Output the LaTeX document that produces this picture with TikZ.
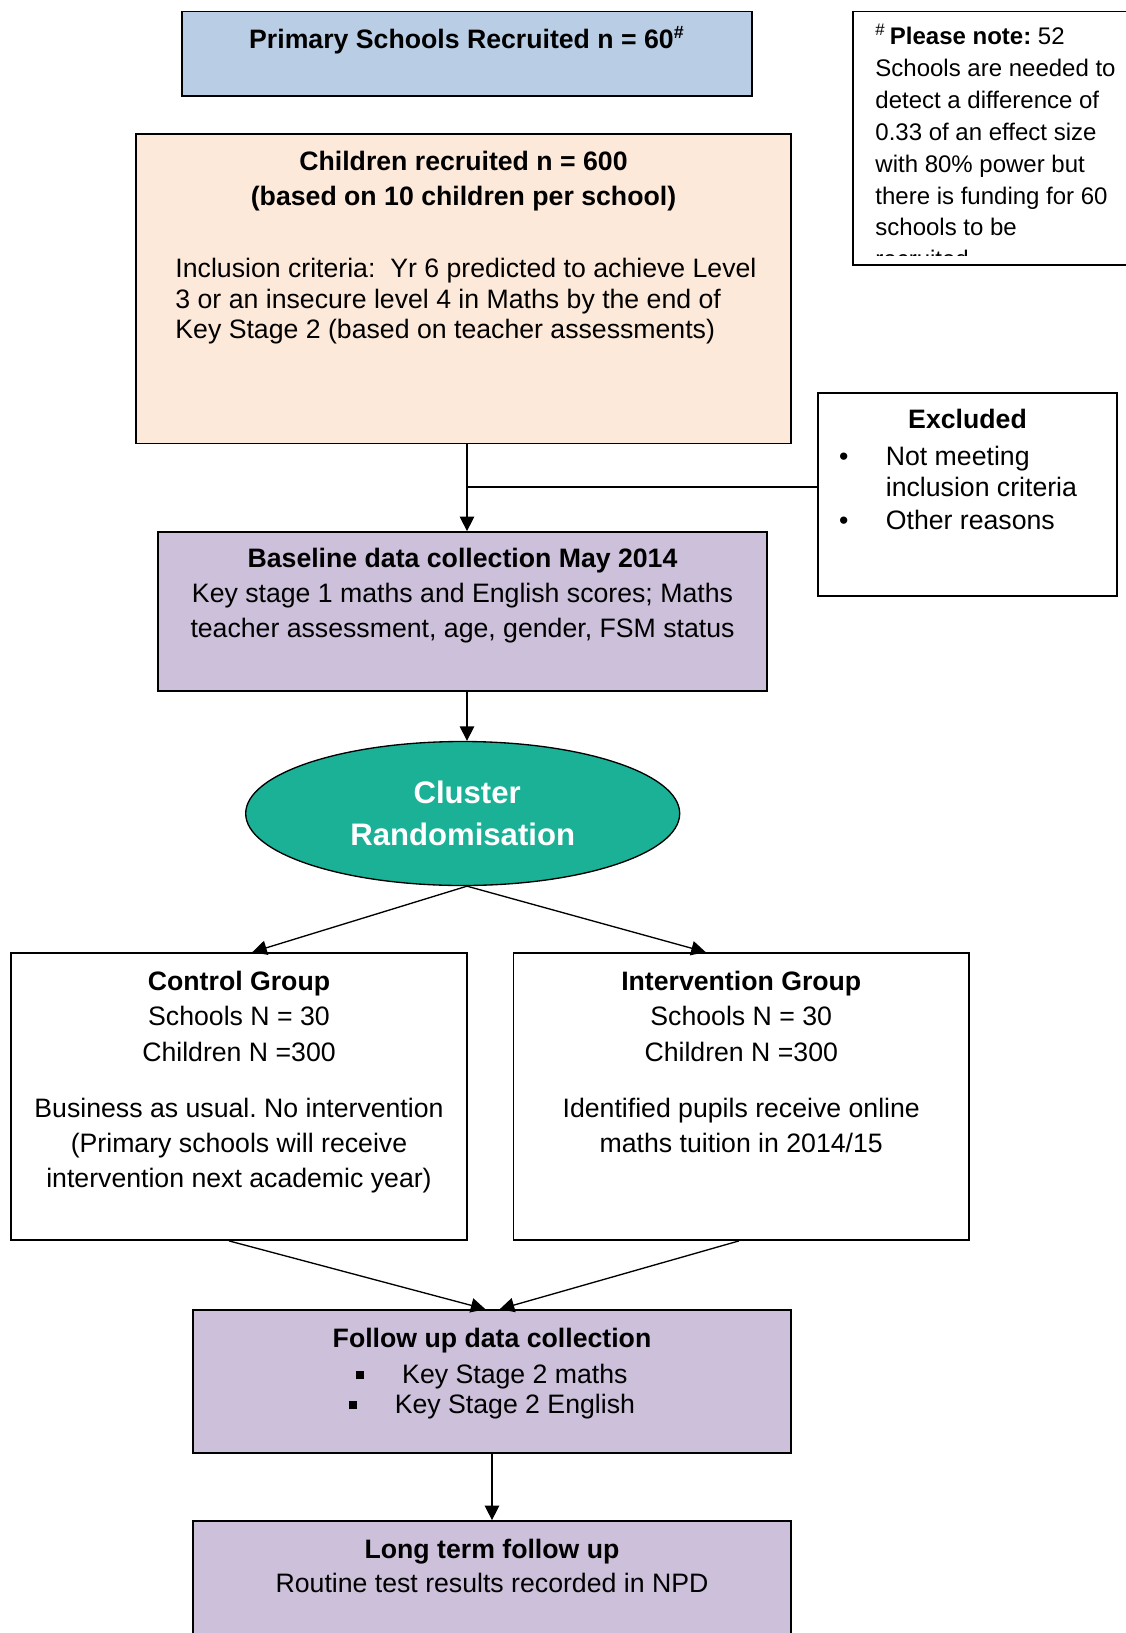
\documentclass[tikz,border=0pt]{standalone}
\usepackage{fontspec}
\setmainfont{Liberation Sans}
\usetikzlibrary{fit,shapes.geometric,arrows.meta}
\definecolor{recblue}{RGB}{185,205,229}
\definecolor{peach}{RGB}{253,233,217}
\definecolor{lilac}{RGB}{204,192,218}
\definecolor{randteal}{RGB}{27,177,151}
\frenchspacing

\begin{document}
\begin{tikzpicture}[x=0.45pt,y=-0.45pt,
    box/.style={draw,line width=0.8pt,rectangle,inner sep=0pt},
    txt/.style={anchor=base,inner sep=0pt,font=\fontsize{12}{14}\selectfont},
    btxt/.style={txt,font=\bfseries\fontsize{12}{14}\selectfont},
    ltxt/.style={txt,anchor=base west},
    arr/.style={line width=0.6pt,-{Triangle[length=6.5pt,width=6.5pt]}}]
    \useasboundingbox (0,0) rectangle (1126,1633);
    \node[box,fill=recblue,fit={(182,11.5) (752,96)}] (recruit) {};
    \node[btxt] (recruit-t) at (467,48.5) {Primary Schools Recruited n = 60\textsuperscript{\#}};
    \node[box,fit={(853,11.5) (1140,265)}] (note) {};
    \begin{scope}
      \clip (853,11.5) rectangle (1126,255);
      \foreach \t [count=\i from 0] in {{\textsuperscript{\#}\,\textbf{Please note:} 52},Schools are needed to,
        detect a difference of,0.33 of an effect size,with 80\% power but,there is funding for 60,schools to be,recruited}
      \node[ltxt,font=\fontsize{10.8}{13}\selectfont] (note\i) at (875,44.5+31.9*\i) {\t};
    \end{scope}
    \node[box,fill=peach,fit={(136,134) (791,443.5)}] (children) {};
    \node[btxt] (children-t1) at (463.5,170.4) {Children recruited n = 600};
    \node[btxt] (children-t2) at (463.5,205.8) {(based on 10 children per school)};
    \foreach \y/\t [count=\i] in {277.7/Inclusion criteria:\ \ Yr 6 predicted to achieve Level,
      308/3 or an insecure level 4 in Maths by the end of,338/Key Stage 2 (based on teacher assessments)}
    \node[ltxt] (incl\i) at (175,\y) {\t};
    \node[box,fit={(818,393) (1117,596)}] (excluded) {};
    \node[btxt] (excluded-t) at (967.5,428.75) {Excluded};
    \foreach \y/\t [count=\i] in {465/Not meeting,496.5/inclusion criteria,529/Other reasons}
    \node[ltxt] (exc\i) at (885.4,\y) {\t};
    \foreach \y [count=\i] in {465,529}
    \node[txt] (bul\i) at (843.75,\y) {\textbullet};
    \node[box,fill=lilac,fit={(158,532) (767,691)}] (baseline) {};
    \node[btxt] (baseline-t1) at (462.5,567) {Baseline data collection May 2014};
    \node[txt] (baseline-t2) at (462.5,602.7) {Key stage 1 maths and English scores; Maths};
    \node[txt] (baseline-t3) at (462.5,637) {teacher assessment, age, gender, FSM status};
    \node[ellipse,draw,line width=0.6pt,fill=randteal,minimum width=195.3pt,minimum height=64.8pt,inner sep=0pt,
      text=white,align=center,font=\bfseries\fontsize{14}{19.2}\selectfont] (rand) at (462.7,813.5) {\hspace{4pt}Cluster\\Randomisation};
    \node[box,fit={(11,953) (467,1240)}] (control) {};
    \node[btxt] (control-t1) at (239,990) {Control Group};
    \foreach \y/\t [count=\i from 2] in {1025.6/Schools N = 30,1061/Children N =300,1117.3/Business as usual. No intervention,
      1152.7/(Primary schools will receive,1187/intervention next academic year)}
    \node[txt] (control-t\i) at (239,\y) {\t};
    \node[box,fit={(513.5,953) (969,1240)}] (interv) {};
    \node[btxt] (interv-t1) at (741.25,990) {Intervention Group};
    \foreach \y/\t [count=\i from 2] in {1025.6/Schools N = 30,1061/Children N =300,1117.3/Identified pupils receive online,
      1152.7/{maths tuition in 2014/15}}
    \node[txt] (interv-t\i) at (741.25,\y) {\t};
    \node[box,fill=lilac,fit={(193,1310) (791,1453)}] (follow) {};
    \node[btxt] (follow-t) at (492,1347.5) {Follow up data collection};
    \foreach \y/\t [count=\i] in {1383/Key Stage 2 maths,1413/Key Stage 2 English}
    \node[txt] (ks\i) at (492,\y) {\rule[0.25ex]{3.6pt}{3.6pt}\hspace{17pt}\t};
    \node[box,fill=lilac,fit={(193,1521) (791,1650)}] (long) {};
    \node[btxt] (long-t1) at (492,1558) {Long term follow up};
    \node[txt] (long-t2) at (492,1592) {Routine test results recorded in NPD};
    \coordinate (spine) at (467,0);
    \coordinate (exjoin) at (467,487);
    \draw[arr] (children.south -| spine) -- (baseline.north -| spine);
    \draw[line width=0.6pt] (exjoin) -- (exjoin -| excluded.west);
    \draw[arr] (baseline.south -| spine) -- (rand.north -| spine);
    \draw[arr] (rand.south -| spine) -- ([xshift=6pt]control.north);
    \draw[arr] (rand.south -| spine) -- ([xshift=-16pt]interv.north);
    \draw[arr] ([xshift=-4.5pt]control.south) -- ([xshift=-3pt]follow.north);
    \draw[arr] ([xshift=-1pt]interv.south) -- ([xshift=3.5pt]follow.north);
    \draw[arr] (follow.south) -- (long.north);
\end{tikzpicture}
\end{document}
